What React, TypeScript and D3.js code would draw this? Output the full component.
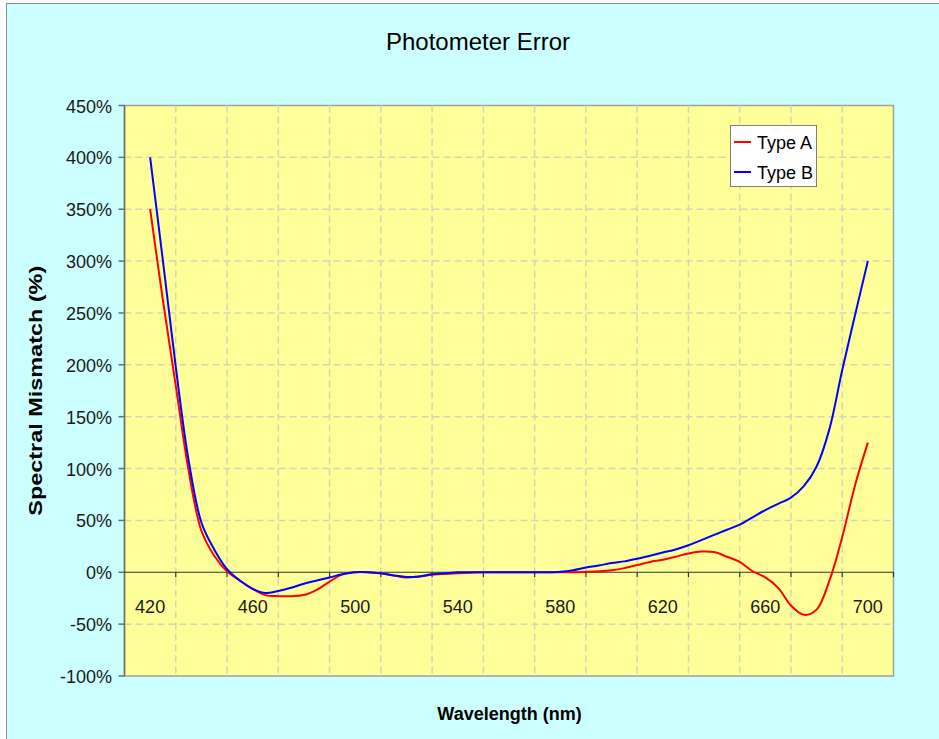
import React from 'react'
import * as d3 from 'd3'

// wavelengths (nm) sampled every 5 nm, 420..700
const wavelengths = d3.range(420, 701, 5)

// Type A spectral mismatch (%)
const typeA = [
  350, 262, 180, 98, 40, 16, 1, -8, -16, -22, // 420-465
  -23, -23, -22, -17, -9, -2, 0, 0, -1, -3, // 470-515
  -5, -4, -2.5, -1.5, -1, -0.5, 0, 0, 0, 0, // 520-565
  0, 0, 0, 0, 0.4, 1, 2, 4, 7, 10, // 570-615
  12, 15, 18, 20, 19.5, 15, 10, 1, -5, -15, // 620-665
  -32, -41, -36, -8, 34, 84, 125, // 670-700
]

// Type B spectral mismatch (%)
const typeB = [
  400, 300, 198, 108, 48, 22, 3, -8, -16, -20, // 420-465
  -18, -15, -11, -8, -5, -2, 0, 0, -1, -3, // 470-515
  -4.5, -4, -2, -1, 0, 0, 0, 0, 0, 0, // 520-565
  0, 0, 0.5, 2, 4.5, 6.5, 9, 10.5, 13, 16, // 570-615
  19, 22, 26, 31, 36, 41, 46, 53, 60, 66, // 620-665
  72, 83, 102, 138, 195, 248, 300, // 670-700
]

const xLabels = [420, 460, 500, 540, 580, 620, 660, 700]
const xGrid = d3.range(430, 691, 20)
const yTicks = d3.range(-100, 451, 50)

const seriesNames = ['Type A', 'Type B']
const seriesColors = ['#ff0000', '#0000ff']

const W = 939
const H = 739
const font = '"Liberation Sans", Arial, sans-serif'

export default function App() {
  const x = d3.scaleLinear().domain([410, 710]).range([124.5, 893.5])
  const y = d3.scaleLinear().domain([-100, 450]).range([676, 105.5])
  const left = x(410), right = x(710), top = y(450), bottom = y(-100)

  const line = d3.line<number>()
    .x((_, i) => x(wavelengths[i]))
    .y(d => y(d))
    .curve(d3.curveCatmullRom.alpha(0.5))

  const series = [typeA, typeB]

  return (
    <svg width={W} height={H} style={{ position: 'absolute', left: 0, top: 0 }} fontFamily={font}>
      <rect x={0} y={0} width={W} height={H} fill="#ffffff" />
      <rect x={6.5} y={3.5} width={W} height={H} fill="#ccffff" stroke="#8c8c8c" />

      <text x={478} y={50} textAnchor="middle" fontSize={24} fill="#000">Photometer Error</text>

      {/* plot area */}
      <rect x={left} y={top} width={right - left} height={bottom - top} fill="#ffff99" stroke="#a0a0a0" strokeWidth={1.5} />

      {yTicks.filter(v => v !== 0 && v !== 450 && v !== -100).map(v => (
        <line key={'gy' + v} x1={left} x2={right} y1={y(v)} y2={y(v)}
          stroke="#d6d6b4" strokeWidth={1.5} strokeDasharray="7,4" />
      ))}
      {xGrid.map(v => (
        <line key={'gx' + v} x1={x(v)} x2={x(v)} y1={top} y2={bottom}
          stroke="#d6d6b4" strokeWidth={1.5} strokeDasharray="7,4" />
      ))}

      {/* y axis */}
      <line x1={left} x2={left} y1={top} y2={bottom} stroke="#6e6e6e" strokeWidth={1.5} />
      {yTicks.map(v => (
        <g key={'yt' + v}>
          <line x1={left - 6} x2={left} y1={y(v)} y2={y(v)} stroke="#6e6e6e" strokeWidth={1.5} />
          <text x={left - 12.5} y={y(v) + 7} textAnchor="end" fontSize={18} fill="#1a1a1a">{v}%</text>
        </g>
      ))}

      {/* x axis at 0 */}
      <line x1={left} x2={right} y1={y(0)} y2={y(0)} stroke="#333" strokeWidth={1.2} />
      {[...xGrid, 710].map(v => (
        <line key={'xt' + v} x1={x(v)} x2={x(v)} y1={y(0)} y2={y(0) + 5} stroke="#333" strokeWidth={1.2} />
      ))}
      {xLabels.map(v => (
        <text key={'xl' + v} x={x(v)} y={y(0) + 41} textAnchor="middle" fontSize={18} fill="#1a1a1a">{v}</text>
      ))}

      {series.map((s, i) => (
        <path key={seriesNames[i]} d={line(s) || ''} fill="none" stroke={seriesColors[i]} strokeWidth={2} />
      ))}

      {/* legend */}
      <rect x={730.5} y={125.5} width={86} height={61} fill="#ffffff" stroke="#808080" />
      {seriesNames.map((n, i) => (
        <g key={'lg' + n}>
          <line x1={734} x2={751} y1={142 + i * 30} y2={142 + i * 30} stroke={seriesColors[i]} strokeWidth={2} />
          <text x={757} y={149 + i * 30} fontSize={18} fill="#000">{n}</text>
        </g>
      ))}

      <text x={509.5} y={720} textAnchor="middle" fontSize={18} fontWeight="bold" fill="#000">Wavelength (nm)</text>
      <text transform={`translate(42, ${(top + bottom) / 2}) rotate(-90)`} x={-125} textLength={250} lengthAdjust="spacingAndGlyphs"
        fontSize={19} fontWeight="bold" fill="#000">Spectral Mismatch (%)</text>
    </svg>
  )
}
